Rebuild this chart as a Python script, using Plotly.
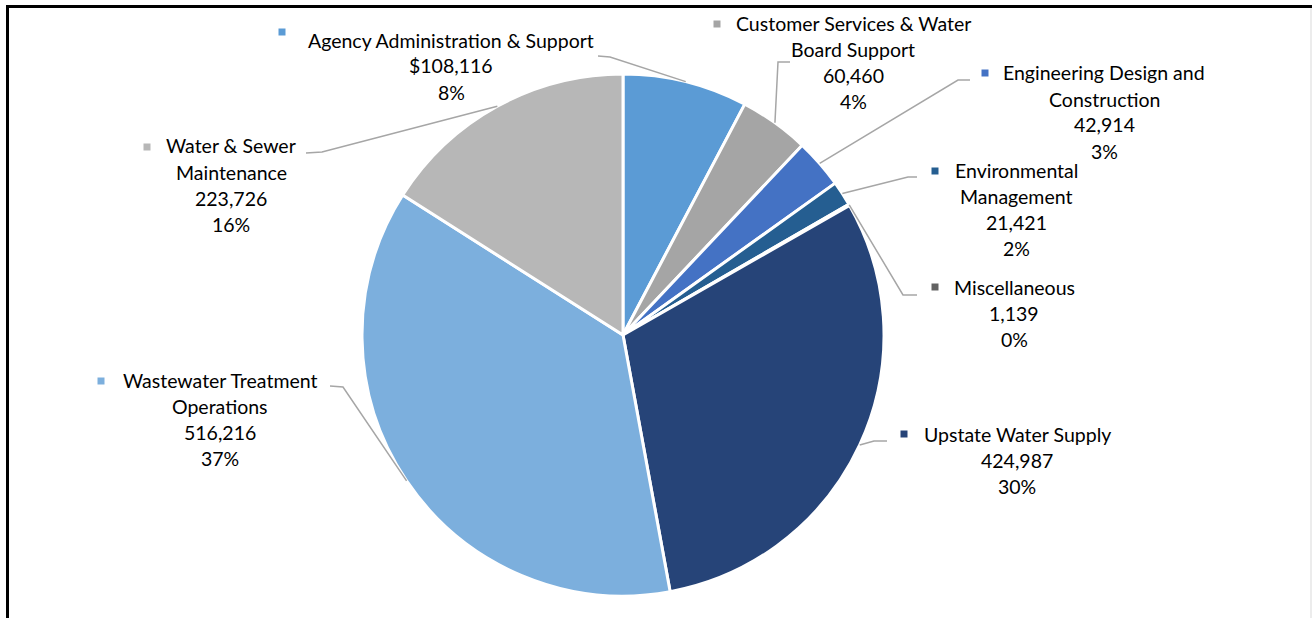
import math
import plotly.graph_objects as go

# ---- data ----
categories = [
    "Agency Administration & Support",
    "Customer Services & Water Board Support",
    "Engineering Design and Construction",
    "Environmental Management",
    "Miscellaneous",
    "Upstate Water Supply",
    "Wastewater Treatment Operations",
    "Water & Sewer Maintenance",
]
values = [108116, 60460, 42914, 21421, 1139, 424987, 516216, 223726]
colors = ["#5B9BD5", "#A5A5A5", "#4472C4", "#255E91", "#636363", "#264478", "#7CAFDD", "#B7B7B7"]
name_lines = [
    ["Agency Administration & Support"],
    ["Customer Services & Water", "Board Support"],
    ["Engineering Design and", "Construction"],
    ["Environmental", "Management"],
    ["Miscellaneous"],
    ["Upstate Water Supply"],
    ["Wastewater Treatment", "Operations"],
    ["Water & Sewer", "Maintenance"],
]
value_prefix = ["$", "", "", "", "", "", "", ""]

# ---- layout (pixels) ----
W, H = 1312, 618
CX, CY, R = 623, 335, 261
# label: text centre x, first line y, marker (x, y), leader elbow, leader end
label_cx = [451, 853, 1104, 1016, 1014, 1017, 220, 231]
label_y0 = [40, 23.5, 73, 170.5, 287.5, 434, 380, 146]
marker_xy = [(282, 32), (717, 24), (985, 73), (935, 171), (935, 287), (904, 434), (101, 381), (147, 147)]
elbow = [(610, 57), (778, 62), (958, 80), (908, 177), (903, 295), (874, 441), (343, 387), (322, 152)]
lend = [(598, 56), (790, 62), (970, 80), (917, 177), (917, 295), (887, 441), (330, 386), (306, 153)]
LINE = 26
FONT = "Lato"
FS = 19.5


def px(x):
    return x / W


def py(y):
    return 1 - y / H


fig = go.Figure()
fig.add_trace(go.Pie(
    labels=categories,
    values=values,
    sort=False,
    direction="clockwise",
    rotation=0,
    marker=dict(colors=colors, line=dict(color="white", width=3)),
    textinfo="none",
    hoverinfo="label+value+percent",
    domain=dict(x=[px(CX - R), px(CX + R)], y=[py(CY + R), py(CY - R)]),
    showlegend=False,
))

total = sum(values)
annotations = []
shapes = []
cum = 0.0
for i, v in enumerate(values):
    mid = (cum + v / 2) / total
    cum += v
    ang = 2 * math.pi * mid
    ex = CX + R * math.sin(ang)
    ey = CY - R * math.cos(ang)
    pct = round(100 * v / total)
    lines = name_lines[i] + [f"{value_prefix[i]}{v:,}", f"{pct}%"]
    for k, t in enumerate(lines):
        annotations.append(dict(
            x=px(label_cx[i]), y=py(label_y0[i] + k * LINE), xref="paper", yref="paper",
            text=t, showarrow=False, xanchor="center", yanchor="middle",
            font=dict(family=FONT, size=FS, color="#000000"),
        ))
    mx, my = marker_xy[i]
    shapes.append(dict(type="rect", xref="paper", yref="paper",
                       x0=px(mx - 3.5), x1=px(mx + 3.5), y0=py(my + 3.5), y1=py(my - 3.5),
                       fillcolor=colors[i], line=dict(width=0)))
    bx, by = elbow[i]
    lx, ly = lend[i]
    shapes.append(dict(type="path", xref="paper", yref="paper",
                       path=f"M {px(ex)} {py(ey)} L {px(bx)} {py(by)} L {px(lx)} {py(ly)}",
                       line=dict(color="#A6A6A6", width=1.5)))

# frame
shapes.append(dict(type="line", xref="paper", yref="paper", x0=px(6), x1=1, y0=py(6.5), y1=py(6.5),
                   line=dict(color="#000000", width=3)))
shapes.append(dict(type="line", xref="paper", yref="paper", x0=px(7.5), x1=px(7.5), y0=py(5), y1=0,
                   line=dict(color="#000000", width=3)))
shapes.append(dict(type="line", xref="paper", yref="paper", x0=px(1311), x1=px(1311), y0=py(8), y1=0,
                   line=dict(color="#D9D9D9", width=1)))

fig.update_layout(
    width=W, height=H,
    margin=dict(l=0, r=0, t=0, b=0),
    paper_bgcolor="white", plot_bgcolor="white",
    annotations=annotations,
    shapes=shapes,
    showlegend=False,
)

fig.write_html("out.html")
